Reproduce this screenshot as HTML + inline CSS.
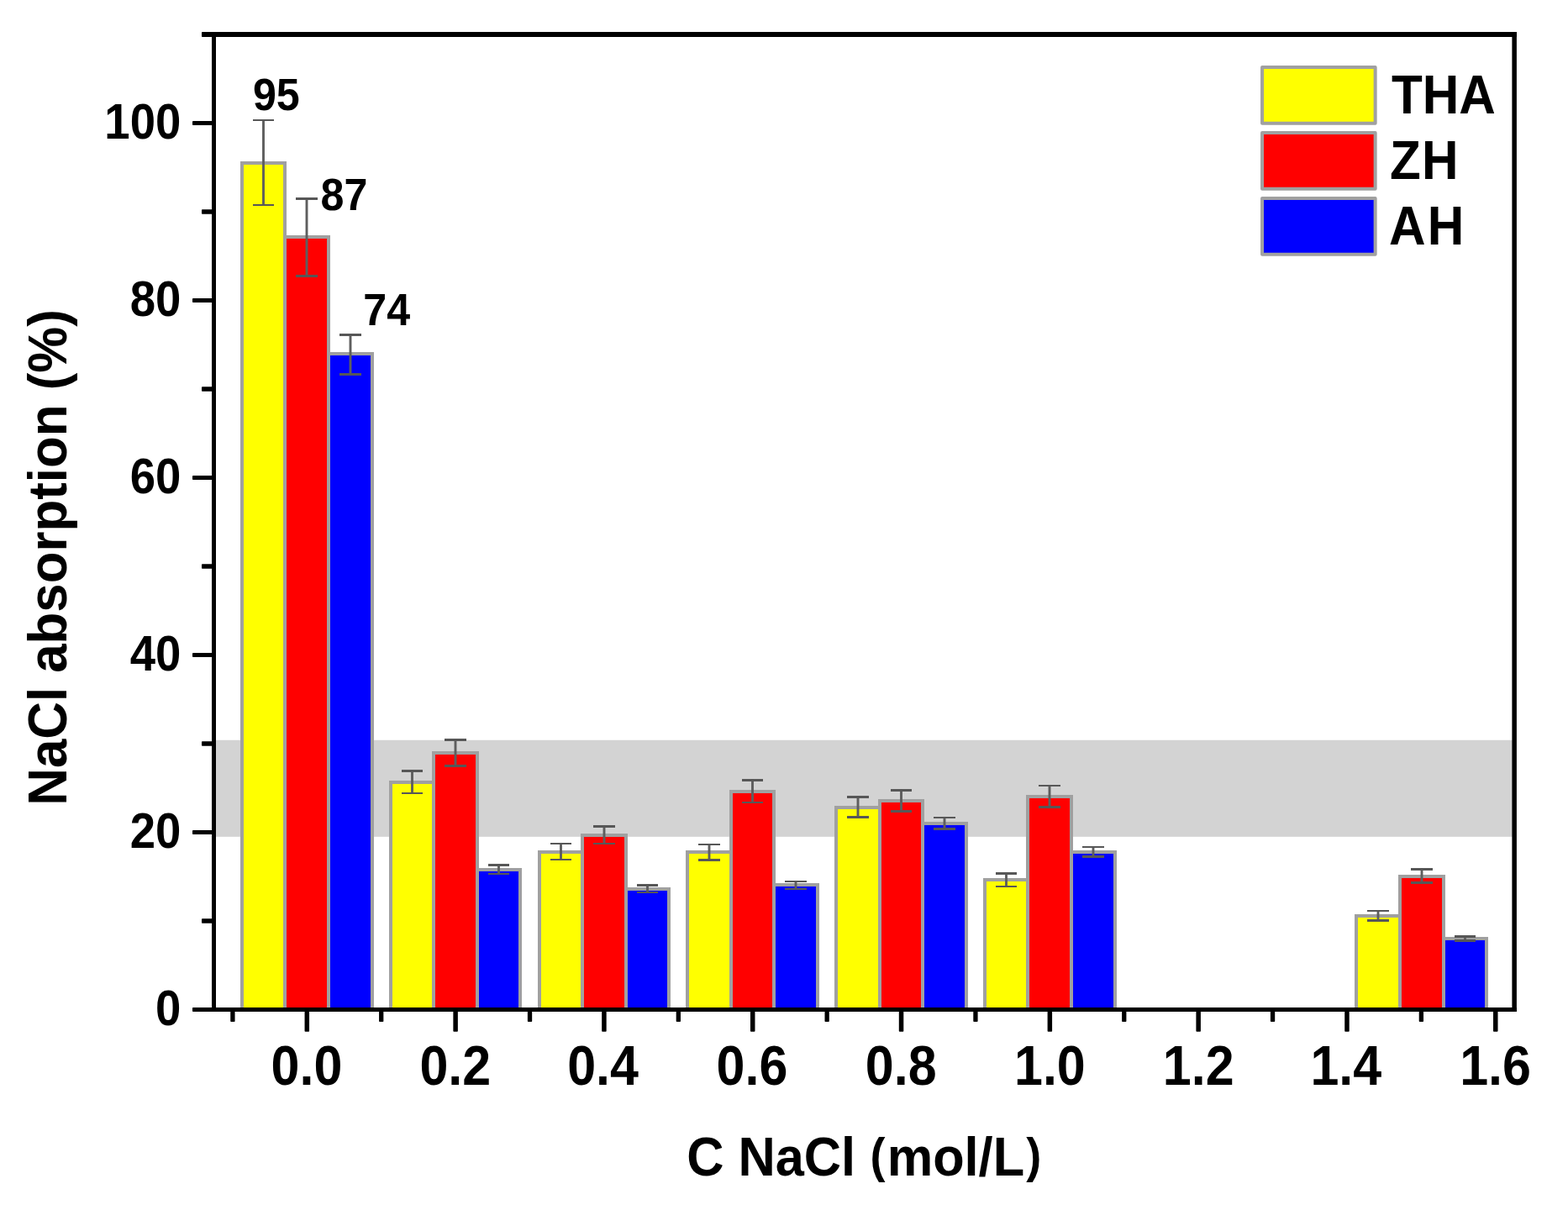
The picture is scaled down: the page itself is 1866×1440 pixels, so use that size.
<!DOCTYPE html>
<html lang="en">
<head>
<meta charset="utf-8">
<title>NaCl absorption vs C NaCl</title>
<style>
html,body{margin:0;padding:0;background:#fff;}
body{width:1866px;height:1440px;overflow:hidden;}
svg{display:block;}
text{font-family:"Liberation Sans",sans-serif;font-weight:700;fill:#000;}
.bar{stroke:#a0a0a0;stroke-width:4;stroke-linejoin:miter;}
.err{fill:#575757;}
.err .st{fill:#5e5e5e;}
.ax{fill:#000;}
</style>
</head>
<body>
<svg width="1866" height="1440" viewBox="0 0 1866 1440">
<rect x="0" y="0" width="1866" height="1440" fill="#ffffff"/>
<rect x="257" y="880.8" width="1543" height="115" fill="#d3d3d3"/>
<g>
<rect class="bar" x="288" y="194" width="51" height="1007" fill="#ffff00"/>
<rect class="bar" x="339" y="282" width="52" height="919" fill="#ff0000"/>
<rect class="bar" x="391" y="421" width="52" height="780" fill="#0000ff"/>
<rect class="bar" x="465" y="931" width="51" height="270" fill="#ffff00"/>
<rect class="bar" x="516" y="896" width="52" height="305" fill="#ff0000"/>
<rect class="bar" x="568" y="1035" width="51" height="166" fill="#0000ff"/>
<rect class="bar" x="642" y="1014" width="51" height="187" fill="#ffff00"/>
<rect class="bar" x="693" y="994" width="52" height="207" fill="#ff0000"/>
<rect class="bar" x="745" y="1058" width="51" height="143" fill="#0000ff"/>
<rect class="bar" x="818" y="1014" width="52" height="187" fill="#ffff00"/>
<rect class="bar" x="870" y="942" width="51" height="259" fill="#ff0000"/>
<rect class="bar" x="921" y="1053" width="52" height="148" fill="#0000ff"/>
<rect class="bar" x="995" y="961" width="52" height="240" fill="#ffff00"/>
<rect class="bar" x="1047" y="953" width="51" height="248" fill="#ff0000"/>
<rect class="bar" x="1098" y="980" width="52" height="221" fill="#0000ff"/>
<rect class="bar" x="1172" y="1047" width="51" height="154" fill="#ffff00"/>
<rect class="bar" x="1223" y="948" width="52" height="253" fill="#ff0000"/>
<rect class="bar" x="1275" y="1014" width="52" height="187" fill="#0000ff"/>
<rect class="bar" x="1614" y="1090" width="52" height="111" fill="#ffff00"/>
<rect class="bar" x="1666" y="1043" width="52" height="158" fill="#ff0000"/>
<rect class="bar" x="1718" y="1117" width="51" height="84" fill="#0000ff"/>
</g>
<g class="err">
<rect class="st" x="312.05" y="142" width="2.9" height="103"/><rect x="301" y="142" width="25" height="2"/><rect x="301" y="243" width="25" height="2"/>
<rect class="st" x="363.55" y="235" width="2.9" height="95"/><rect x="352" y="235" width="26" height="3"/><rect x="352" y="327" width="26" height="3"/>
<rect class="st" x="415.55" y="397" width="2.9" height="50"/><rect x="404" y="397" width="26" height="3"/><rect x="404" y="444" width="26" height="3"/>
<rect class="st" x="489.05" y="916" width="2.9" height="29"/><rect x="478" y="916" width="25" height="3"/><rect x="478" y="943" width="25" height="2"/>
<rect class="st" x="540.55" y="879" width="2.9" height="34"/><rect x="529" y="879" width="26" height="3"/><rect x="529" y="910" width="26" height="3"/>
<rect class="st" x="592.05" y="1028" width="2.9" height="13"/><rect x="581" y="1028" width="25" height="3"/><rect x="581" y="1039" width="25" height="2"/>
<rect class="st" x="666.05" y="1003" width="2.9" height="21"/><rect x="655" y="1003" width="25" height="2"/><rect x="655" y="1022" width="25" height="2"/>
<rect class="st" x="717.55" y="982" width="2.9" height="23"/><rect x="706" y="982" width="26" height="3"/><rect x="706" y="1003" width="26" height="2"/>
<rect class="st" x="769.05" y="1052" width="2.9" height="11"/><rect x="758" y="1052" width="25" height="3"/><rect x="758" y="1061" width="25" height="2"/>
<rect class="st" x="842.55" y="1004" width="2.9" height="21"/><rect x="831" y="1004" width="26" height="2"/><rect x="831" y="1022" width="26" height="3"/>
<rect class="st" x="894.05" y="927" width="2.9" height="29"/><rect x="883" y="927" width="25" height="3"/><rect x="883" y="954" width="25" height="2"/>
<rect class="st" x="945.55" y="1048" width="2.9" height="11"/><rect x="934" y="1048" width="26" height="2"/><rect x="934" y="1057" width="26" height="2"/>
<rect class="st" x="1019.55" y="947" width="2.9" height="27"/><rect x="1008" y="947" width="26" height="3"/><rect x="1008" y="971" width="26" height="3"/>
<rect class="st" x="1071.05" y="939" width="2.9" height="28"/><rect x="1060" y="939" width="25" height="3"/><rect x="1060" y="964" width="25" height="3"/>
<rect class="st" x="1122.55" y="972" width="2.9" height="16"/><rect x="1111" y="972" width="26" height="2"/><rect x="1111" y="985" width="26" height="3"/>
<rect class="st" x="1196.05" y="1038" width="2.9" height="18"/><rect x="1185" y="1038" width="25" height="3"/><rect x="1185" y="1054" width="25" height="2"/>
<rect class="st" x="1247.55" y="934" width="2.9" height="28"/><rect x="1236" y="934" width="26" height="2"/><rect x="1236" y="959" width="26" height="3"/>
<rect class="st" x="1299.55" y="1007" width="2.9" height="14"/><rect x="1288" y="1007" width="26" height="2"/><rect x="1288" y="1018" width="26" height="3"/>
<rect class="st" x="1638.55" y="1083" width="2.9" height="14"/><rect x="1627" y="1083" width="26" height="2"/><rect x="1627" y="1094" width="26" height="3"/>
<rect class="st" x="1690.55" y="1033" width="2.9" height="19"/><rect x="1679" y="1033" width="26" height="3"/><rect x="1679" y="1049" width="26" height="3"/>
<rect class="st" x="1742.05" y="1113" width="2.9" height="8"/><rect x="1731" y="1113" width="25" height="3"/><rect x="1731" y="1118" width="25" height="3"/>
</g>
<g class="ax">
<rect x="240" y="38" width="1565" height="6" rx="0.8"/>
<rect x="229" y="1199" width="1576" height="5" rx="0.8"/>
<rect x="252" y="38" width="5" height="1166"/>
<rect x="1799.4" y="38" width="5.5" height="1166"/>
<rect x="240" y="1093.2" width="14" height="5.6" rx="0.8"/>
<rect x="229" y="987.9" width="25" height="5.2" rx="0.8"/>
<rect x="240" y="882.2" width="14" height="5.6" rx="0.8"/>
<rect x="229" y="776.9" width="25" height="5.2" rx="0.8"/>
<rect x="240" y="671.2" width="14" height="5.6" rx="0.8"/>
<rect x="229" y="565.9" width="25" height="5.2" rx="0.8"/>
<rect x="240" y="460.2" width="14" height="5.6" rx="0.8"/>
<rect x="229" y="354.9" width="25" height="5.2" rx="0.8"/>
<rect x="240" y="249.2" width="14" height="5.6" rx="0.8"/>
<rect x="229" y="143.9" width="25" height="5.2" rx="0.8"/>
<rect x="274.25" y="1202" width="5.3" height="14" rx="0.8"/>
<rect x="362.55" y="1202" width="5.5" height="25.7" rx="0.8"/>
<rect x="451.06" y="1202" width="5.3" height="14" rx="0.8"/>
<rect x="539.36" y="1202" width="5.5" height="25.7" rx="0.8"/>
<rect x="627.87" y="1202" width="5.3" height="14" rx="0.8"/>
<rect x="716.17" y="1202" width="5.5" height="25.7" rx="0.8"/>
<rect x="804.68" y="1202" width="5.3" height="14" rx="0.8"/>
<rect x="892.98" y="1202" width="5.5" height="25.7" rx="0.8"/>
<rect x="981.49" y="1202" width="5.3" height="14" rx="0.8"/>
<rect x="1069.79" y="1202" width="5.5" height="25.7" rx="0.8"/>
<rect x="1158.29" y="1202" width="5.3" height="14" rx="0.8"/>
<rect x="1246.6" y="1202" width="5.5" height="25.7" rx="0.8"/>
<rect x="1335.11" y="1202" width="5.3" height="14" rx="0.8"/>
<rect x="1423.41" y="1202" width="5.5" height="25.7" rx="0.8"/>
<rect x="1511.91" y="1202" width="5.3" height="14" rx="0.8"/>
<rect x="1600.22" y="1202" width="5.5" height="25.7" rx="0.8"/>
<rect x="1688.72" y="1202" width="5.3" height="14" rx="0.8"/>
<rect x="1777.03" y="1202" width="5.5" height="25.7" rx="0.8"/>
</g>
<g font-size="54.5" text-anchor="end">
<text transform="translate(215.3 1220.1) scale(1 1.08)">0</text>
<text transform="translate(215.3 1009.1) scale(1 1.08)">20</text>
<text transform="translate(215.3 798.1) scale(1 1.08)">40</text>
<text transform="translate(215.3 587.1) scale(1 1.08)">60</text>
<text transform="translate(215.3 376.1) scale(1 1.08)">80</text>
<text transform="translate(215.3 165.1) scale(1 1.08)">100</text>
</g>
<g font-size="61" text-anchor="middle">
<text transform="translate(364.9 1290.5) scale(1 1.08)">0.0</text>
<text transform="translate(541.81 1290.5) scale(1 1.08)">0.2</text>
<text transform="translate(717.52 1290.5) scale(1 1.08)">0.4</text>
<text transform="translate(894.93 1290.5) scale(1 1.08)">0.6</text>
<text transform="translate(1072.24 1290.5) scale(1 1.08)">0.8</text>
<text transform="translate(1249.35 1290.5) scale(1 1.08)">1.0</text>
<text transform="translate(1426.16 1290.5) scale(1 1.08)">1.2</text>
<text transform="translate(1601.77 1290.5) scale(1 1.08)">1.4</text>
<text transform="translate(1779.58 1290.5) scale(1 1.08)">1.6</text>
</g>
<text font-size="61.3" text-anchor="middle" transform="translate(1028.2 1398.5) scale(1 1.06)">C NaCl <tspan font-size="54" dx="0.4" dy="-3.2">(</tspan><tspan dx="2.1" dy="3.2">mol/L</tspan><tspan font-size="54" dx="2.1" dy="-3.2">)</tspan></text>
<text font-size="61.8" text-anchor="middle" transform="translate(78.9 663.5) rotate(-90) scale(1 1.06)">NaCl absorption (%)</text>
<g font-size="50.2" text-anchor="middle">
<text transform="translate(328.8 130.8) scale(1 1.08)">95</text>
<text transform="translate(409.5 249.9) scale(1 1.08)">87</text>
<text transform="translate(460.2 387) scale(1 1.08)">74</text>
</g>
<g>
<rect x="1502.05" y="80" width="134.6" height="66.8" fill="#ffff00" stroke="#a0a0a0" stroke-width="4" stroke-linejoin="round"/>
<text font-size="60.3" letter-spacing="0" transform="translate(1656 135.1) scale(1 1.08)">THA</text>
<rect x="1502.05" y="158" width="134.6" height="66.8" fill="#ff0000" stroke="#a0a0a0" stroke-width="4" stroke-linejoin="round"/>
<text font-size="60.3" letter-spacing="1.2" transform="translate(1654 213.1) scale(1 1.08)">ZH</text>
<rect x="1502.05" y="236" width="134.6" height="66.8" fill="#0000ff" stroke="#a0a0a0" stroke-width="4" stroke-linejoin="round"/>
<text font-size="60.3" letter-spacing="2" transform="translate(1653.1 291.1) scale(1 1.08)">AH</text>
</g>
</svg>
</body>
</html>
